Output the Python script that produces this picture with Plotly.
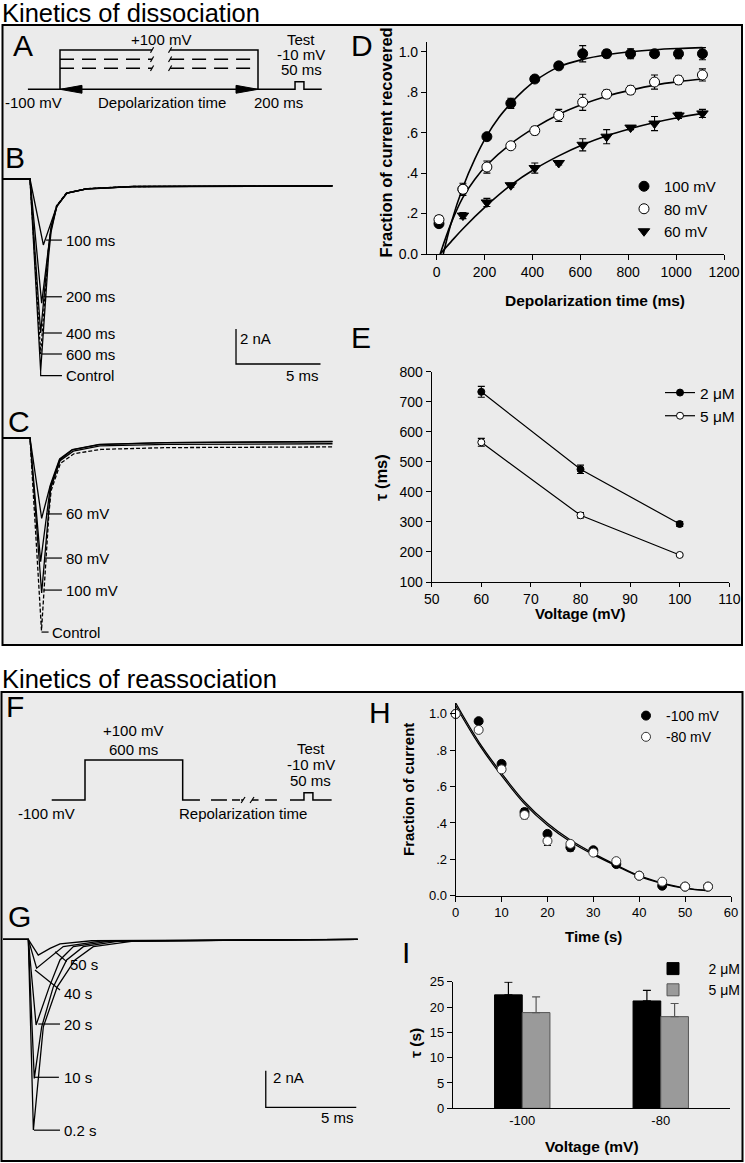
import plotly.graph_objects as go

FONT = "Arial, 'Liberation Sans', Helvetica, sans-serif"
W, H = 745, 1163
BOX_BG = "#ebebeb"

# ---------------- Panel D : fraction of current recovered vs depolarization time
dep_time_ms = [10, 110, 210, 310, 410, 510, 610, 710, 810, 910, 1010, 1110]
rec_100mV = [0.15, 0.32, 0.58, 0.745, 0.865, 0.93, 0.99, 0.99, 0.99, 0.99, 0.99, 0.99]
rec_100mV_err = [0.015, 0.02, 0.01, 0.025, 0.012, 0.012, 0.04, 0.02, 0.025, 0.012, 0.025, 0.03]
rec_80mV = [0.17, 0.32, 0.43, 0.535, 0.61, 0.685, 0.75, 0.79, 0.81, 0.85, 0.86, 0.885]
rec_80mV_err = [0.02, 0.03, 0.03, 0.012, 0.02, 0.03, 0.04, 0.02, 0.02, 0.035, 0.02, 0.03]
rec_60mV = [None, 0.19, 0.255, 0.34, 0.425, 0.45, 0.54, 0.58, 0.625, 0.645, 0.685, 0.695]
rec_60mV_err = [0, 0.015, 0.02, 0.01, 0.025, 0.01, 0.03, 0.035, 0.01, 0.035, 0.015, 0.02]

fit100_t = [28, 60, 110, 160, 210, 260, 310, 360, 410, 510, 610, 710, 810, 910, 1010, 1110]
fit100_y = [0, 0.15, 0.33, 0.47, 0.585, 0.675, 0.745, 0.805, 0.855, 0.925, 0.962, 0.985, 1.0, 1.01, 1.016, 1.02]
fit80_t = [15, 60, 110, 160, 210, 310, 410, 510, 610, 710, 810, 910, 1010, 1110]
fit80_y = [0, 0.15, 0.28, 0.37, 0.44, 0.545, 0.625, 0.69, 0.74, 0.78, 0.81, 0.835, 0.852, 0.865]
fit60_t = [15, 60, 110, 210, 310, 410, 510, 610, 710, 810, 910, 1010, 1110]
fit60_y = [0, 0.06, 0.125, 0.24, 0.34, 0.42, 0.485, 0.54, 0.585, 0.62, 0.65, 0.675, 0.695]

# ---------------- Panel E : tau vs voltage
volt_mV = [60, 80, 100]
tau_2uM = [733, 475, 293]
tau_2uM_err = [18, 14, 8]
tau_5uM = [565, 322, 190]
tau_5uM_err = [13, 9, 4]

# ---------------- Panel H : fraction of current vs repolarization time
rep_time_s = [0, 5, 10, 15, 20, 25, 30, 35, 40, 45, 50, 55]
frac_m100 = [1.0, 0.96, 0.725, 0.46, 0.34, 0.266, 0.25, 0.174, 0.11, 0.055, 0.05, 0.05]
frac_m100_err = [0, 0.01, 0.015, 0.02, 0.015, 0.02, 0.01, 0.01, 0.01, 0.01, 0.01, 0.01]
frac_m80 = [1.0, 0.912, 0.695, 0.444, 0.301, 0.285, 0.237, 0.19, 0.11, 0.077, 0.05, 0.05]
frac_m80_err = [0, 0.01, 0.015, 0.02, 0.025, 0.015, 0.01, 0.01, 0.01, 0.01, 0.01, 0.01]
fitH_t = [0, 5, 10, 15, 20, 25, 30, 35, 40, 45, 50, 55]
fitH_m100 = [1.06, 0.848, 0.673, 0.517, 0.398, 0.306, 0.233, 0.169, 0.11, 0.07, 0.042, 0.03]
fitH_m80 = [1.045, 0.835, 0.66, 0.505, 0.387, 0.297, 0.226, 0.164, 0.106, 0.067, 0.04, 0.027]

# ---------------- Panel I : tau (s) bars
i_volt = ["-100", "-80"]
i_tau_2uM = [22.4, 21.2]
i_tau_2uM_err = [2.5, 2.1]
i_tau_5uM = [18.9, 18.1]
i_tau_5uM_err = [3.1, 2.6]

# ---------------- Panel A : dissociation protocol (schematic time in % of depolarization, mV)
a_solid_t = [-16.2, 0, 0, 46.5, None, 55.6, 100, 100, 118.7, 118.7, 123.2, 123.2, 132.2]
a_solid_v = [-100, -100, 100, 100, None, 100, 100, -100, -100, -61, -61, -100, -100]
a_dash_levels = [53, 7]
a_dash_t = [0, 46.5, None, 55.6, 100]
a_break_t = [46.5, 55.6]
a_arrow_tips = [0, 100]

# ---------------- Panel F : reassociation protocol (ms, mV)
f_solid_t = [-204.5, 0, 0, 600, 600, 706]
f_solid_v = [-100, -100, 100, 100, -100, -100]
f_dash_t = [774, 872, None, 903, 952, None, 1106, 1179]
f_break_t = [971, 1026]
f_test_t = [1259, 1345, 1345, 1400, 1400, 1515]
f_test_v = [-100, -100, -63.5, -63.5, -100, -100]

# ---------------- Panel B : current traces after depolarization of various durations (ms, nA)
b_labels = ["100 ms", "200 ms", "400 ms", "600 ms", "Control"]
b_t = [
    [-1.6, 0, 0.79, 1.25, 1.6, 2.2, 3.4, 6.1, 17.9],
    [-1.6, 0, 0.69, 1.1, 1.25, 1.6, 2.17, 3.36, 6.1, 17.9],
    [-1.6, 0, 0.63, 1.08, 1.24, 1.58, 2.17, 3.36, 6.1, 17.9],
    [-1.6, 0, 0.63, 1.08, 1.23, 1.56, 2.15, 3.3, 6.0, 17.9],
    [-1.6, 0, 0.63, 1.1, 1.25, 1.58, 2.17, 3.36, 6.1, 17.9],
]
b_i = [
    [0, 0, -3.77, -2.5, -1.5, -0.8, -0.55, -0.43, -0.38],
    [0, 0, -7.09, -3.6, -2.7, -1.55, -0.8, -0.56, -0.43, -0.39],
    [0, 0, -8.8, -4.1, -2.9, -1.56, -0.81, -0.56, -0.44, -0.4],
    [0, 0, -10.0, -4.2, -2.9, -1.55, -0.8, -0.55, -0.43, -0.4],
    [0, 0, -10.97, -4.4, -3.0, -1.58, -0.82, -0.57, -0.44, -0.4],
]
b_dash = ["solid", "solid", "solid", "3px,2px", "solid"]
b_label_i = [-3.49, -6.73, -8.8, -10.0, -11.23]
b_label_t0 = [0.95, 0.79, 0.74, 0.68, 0.63]

# ---------------- Panel C : current traces after depolarization to various voltages (ms, nA)
c_labels = ["60 mV", "80 mV", "100 mV", "Control"]
c_t = [
    [-1.6, 0, 0.69, 1.2, 1.75, 2.5, 4.1, 8.0, 17.9],
    [-1.6, 0, 0.63, 1.08, 1.2, 1.76, 2.5, 4.1, 8.0, 17.9],
    [-1.6, 0, 0.69, 1.1, 1.22, 1.78, 2.56, 4.14, 8.09, 17.9],
    [-1.6, 0, 0.68, 1.12, 1.25, 1.8, 2.6, 4.2, 8.1, 17.9],
]
c_i = [
    [0, 0, -4.59, -2.7, -1.2, -0.66, -0.37, -0.26, -0.2],
    [0, 0, -7.07, -3.6, -2.8, -1.25, -0.68, -0.38, -0.27, -0.21],
    [0, 0, -8.86, -4.0, -2.9, -1.3, -0.75, -0.45, -0.37, -0.33],
    [0, 0, -11.0, -4.3, -3.0, -1.45, -0.9, -0.65, -0.55, -0.51],
]
c_dash = ["solid", "solid", "solid", "4px,2px"]
c_label_i = [-4.34, -6.86, -8.69, -11.09]
c_label_t0 = [0.95, 0.85, 0.8, 0.68]

# ---------------- Panel G : current traces after various repolarization times (ms, nA)
g_labels = ["0.2 s", "10 s", "20 s", "40 s", "50 s"]
g_t = [
    [-1.4, 0, 0.28, 0.83, 1.6, 2.58, 3.59, 5.8, 18.2],
    [-1.4, 0, 0.33, 0.74, 1.38, 2.12, 3.04, 5.0, 18.2],
    [-1.4, 0, 0.43, 1.16, 1.75, 2.49, 4.5, 18.2],
    [-1.4, 0, 0.46, 1.02, 1.93, 4.0, 18.2],
    [-1.4, 0, 0.55, 1.2, 1.75, 3.5, 18.2],
]
g_i = [
    [0, 0, -10.42, -4.78, -2.6, -1.13, -0.4, -0.1, 0],
    [0, 0, -7.6, -4.78, -2.6, -1.13, -0.4, -0.1, 0],
    [0, 0, -4.68, -2.6, -1.13, -0.4, -0.1, 0],
    [0, 0, -1.58, -1.13, -0.4, -0.1, 0],
    [0, 0, -0.86, -0.5, -0.25, -0.08, 0],
]
g_label_line_t = [[0.31, 1.75], [0.37, 1.69], [0.55, 1.75], [0.37, 1.75], [1.48, 2.12]]
g_label_line_i = [[-10.43, -10.43], [-7.54, -7.54], [-4.63, -4.63], [-1.68, -2.77], [-0.68, -1.22]]
g_label_pos_t = [1.85, 1.85, 1.85, 1.85, 2.21]
g_label_pos_i = [-10.43, -7.54, -4.63, -2.95, -1.4]

# scale bars (2 nA, 5 ms)
scale_nA = 2
scale_ms = 5


# ---------------- helpers (layout geometry in pixels of the 745x1163 page)
def fx(px):
    return px / W


def fy(py):
    return 1 - py / H


def xdom(a, b):
    return [a / W, b / W]


def ydom(top, bottom):
    return [1 - bottom / H, 1 - top / H]


fig = go.Figure()
BLACK = "black"


def ax_name(n, kind):
    return kind if n == 1 else f"{kind}{n}"


axes = {}


def set_axes(n, xd, yd, xr, yr, visible=False, xkw=None, ykw=None):
    base = dict(showgrid=False, zeroline=False, fixedrange=True)
    xa = dict(base, domain=xd, range=xr, anchor=("y" if n == 1 else f"y{n}"), visible=visible)
    ya = dict(base, domain=yd, range=yr, anchor=("x" if n == 1 else f"x{n}"), visible=visible)
    if xkw:
        xa.update(xkw)
    if ykw:
        ya.update(ykw)
    axes[ax_name(n, "xaxis")] = xa
    axes[ax_name(n, "yaxis")] = ya


def vis_axis(size=14, **kw):
    d = dict(showline=True, linecolor=BLACK, linewidth=1.2, ticks="outside", ticklen=5,
             tickwidth=1.2, tickcolor=BLACK, automargin=False,
             tickfont=dict(family=FONT, size=size, color=BLACK))
    d.update(kw)
    return d


# D axes
set_axes(1, xdom(427, 724), ydom(41.6, 254), [-40, 1200], [0, 1.05], True,
         vis_axis(14, tickvals=[0, 200, 400, 600, 800, 1000, 1200]),
         vis_axis(14, tickvals=[0, 0.2, 0.4, 0.6, 0.8, 1.0],
                  ticktext=["0.0", ".2", ".4", ".6", ".8", "1.0"]))
# E axes
set_axes(2, xdom(431.7, 729.3), ydom(371.7, 582), [50, 110], [100, 800], True,
         vis_axis(14, tickvals=[50, 60, 70, 80, 90, 100, 110], ticklen=4),
         vis_axis(14, tickvals=[100, 200, 300, 400, 500, 600, 700, 800]))
# H axes
set_axes(3, xdom(455.7, 731), ydom(703, 895.7), [0, 60], [0, 1.06], True,
         vis_axis(13, tickvals=[0, 10, 20, 30, 40, 50, 60]),
         vis_axis(13, tickvals=[0, 0.2, 0.4, 0.6, 0.8, 1.0],
                  ticktext=["0.0", ".2", ".4", ".6", ".8", "1.0"]))
# I axes
set_axes(4, xdom(453, 730), ydom(981.7, 1108.3), [-0.5, 1.5], [0, 25], True,
         vis_axis(13, type="category", ticks=""),
         vis_axis(13, tickvals=[0, 5, 10, 15, 20, 25]))

# A axes (schematic protocol)
A_px0, A_pxu, A_py0, A_pymv = 60, 1.98, 89.3, 0.1965
set_axes(5, xdom(3, 370), ydom(30, 115),
         [(3 - A_px0) / A_pxu, (370 - A_px0) / A_pxu],
         [-100 - (115 - A_py0) / A_pymv, -100 + (A_py0 - 30) / A_pymv])
# F axes
F_px0, F_pxms, F_py0, F_pymv = 85, 0.1628, 800, 0.2
set_axes(8, xdom(3, 370), ydom(720, 830),
         [(3 - F_px0) / F_pxms, (370 - F_px0) / F_pxms],
         [-100 - (830 - F_py0) / F_pymv, -100 + (F_py0 - 720) / F_pymv])
# B axes
B_px0, B_pxms, B_py0, B_pxna = 30, 16.9, 179, 17.5
set_axes(6, xdom(3, 360), ydom(170, 385),
         [(3 - B_px0) / B_pxms, (360 - B_px0) / B_pxms],
         [-(385 - B_py0) / B_pxna, -(170 - B_py0) / B_pxna])
# C axes
C_py0 = 438
set_axes(7, xdom(3, 360), ydom(428, 645),
         [(3 - B_px0) / B_pxms, (360 - B_px0) / B_pxms],
         [-(645 - C_py0) / B_pxna, -(428 - C_py0) / B_pxna])
# G axes
G_px0, G_pxms, G_py0, G_pxna = 28.3, 18.1, 939.3, 18.3
set_axes(9, xdom(3, 365), ydom(925, 1150),
         [(3 - G_px0) / G_pxms, (365 - G_px0) / G_pxms],
         [-(1150 - G_py0) / G_pxna, -(925 - G_py0) / G_pxna])


def xy(n):
    return dict(xaxis=("x" if n == 1 else f"x{n}"), yaxis=("y" if n == 1 else f"y{n}"))


def line_trace(n, x, y, width=1.3, dash="solid", color=BLACK, shape="linear"):
    fig.add_trace(go.Scatter(x=x, y=y, mode="lines", showlegend=False, hoverinfo="skip",
                             line=dict(color=color, width=width, dash=dash, shape=shape),
                             cliponaxis=False, **xy(n)))


# ---------- Panel D traces
for t, yv in [(fit100_t, fit100_y), (fit80_t, fit80_y), (fit60_t, fit60_y)]:
    line_trace(1, t, yv, width=1.6, shape="spline")


def err(arr, color=BLACK):
    return dict(type="data", array=arr, visible=True, color=color, thickness=1.1, width=3.5)


fig.add_trace(go.Scatter(x=dep_time_ms, y=rec_100mV, error_y=err(rec_100mV_err), mode="markers",
                         name="100 mV", legend="legend", cliponaxis=False,
                         marker=dict(symbol="circle", size=10, color=BLACK, line=dict(color=BLACK, width=1)),
                         **xy(1)))
fig.add_trace(go.Scatter(x=dep_time_ms, y=rec_80mV, error_y=err(rec_80mV_err), mode="markers",
                         name="80 mV", legend="legend", cliponaxis=False,
                         marker=dict(symbol="circle", size=10, color="white", line=dict(color=BLACK, width=1)),
                         **xy(1)))
fig.add_trace(go.Scatter(x=dep_time_ms, y=rec_60mV, error_y=err(rec_60mV_err), mode="markers",
                         name="60 mV", legend="legend", cliponaxis=False,
                         marker=dict(symbol="triangle-down", size=10, color=BLACK, line=dict(color=BLACK, width=1)),
                         **xy(1)))

# ---------- Panel E traces
fig.add_trace(go.Scatter(x=volt_mV, y=tau_2uM, error_y=err(tau_2uM_err), mode="lines+markers",
                         name="2 μM", legend="legend2", cliponaxis=False,
                         line=dict(color=BLACK, width=1.2),
                         marker=dict(symbol="circle", size=7, color=BLACK, line=dict(color=BLACK, width=1)),
                         **xy(2)))
fig.add_trace(go.Scatter(x=volt_mV, y=tau_5uM, error_y=err(tau_5uM_err), mode="lines+markers",
                         name="5 μM", legend="legend2", cliponaxis=False,
                         line=dict(color=BLACK, width=1.2),
                         marker=dict(symbol="circle", size=7, color="white", line=dict(color=BLACK, width=1)),
                         **xy(2)))

# ---------- Panel H traces
line_trace(3, fitH_t, fitH_m100, width=1.3, shape="spline")
line_trace(3, fitH_t, fitH_m80, width=1.3, shape="spline")
fig.add_trace(go.Scatter(x=rep_time_s, y=frac_m100, error_y=err(frac_m100_err), mode="markers",
                         name="-100 mV", legend="legend3", cliponaxis=False,
                         marker=dict(symbol="circle", size=9, color=BLACK, line=dict(color=BLACK, width=1)),
                         **xy(3)))
fig.add_trace(go.Scatter(x=rep_time_s, y=frac_m80, error_y=err(frac_m80_err), mode="markers",
                         name="-80 mV", legend="legend3", cliponaxis=False,
                         marker=dict(symbol="circle", size=9, color="white", line=dict(color="#333333", width=1)),
                         **xy(3)))

# ---------- Panel I bars
NBSP = "\u00a0"
fig.add_trace(go.Bar(x=i_volt, y=i_tau_2uM, name=NBSP * 4 + "2 μM", legend="legend4",
                     marker=dict(color=BLACK, line=dict(color=BLACK, width=1)),
                     error_y=dict(type="data", array=i_tau_2uM_err, arrayminus=[0, 0], symmetric=False,
                                  color=BLACK, thickness=1.2, width=4),
                     **xy(4)))
fig.add_trace(go.Bar(x=i_volt, y=i_tau_5uM, name=NBSP * 4 + "5 μM", legend="legend4",
                     marker=dict(color="#9a9a9a", line=dict(color="#555555", width=1)),
                     error_y=dict(type="data", array=i_tau_5uM_err, arrayminus=[0, 0], symmetric=False,
                                  color="#555555", thickness=1.2, width=4),
                     **xy(4)))

# ---------- Panel A protocol
line_trace(5, a_solid_t, a_solid_v, width=1.5)
for lvl in a_dash_levels:
    line_trace(5, a_dash_t, [lvl if t is not None else None for t in a_dash_t], width=1.5, dash="14px,8px")
for lvl in [100] + a_dash_levels:
    for tb in a_break_t:
        line_trace(5, [tb - 0.8, tb + 0.8], [lvl - 14, lvl + 14], width=1.2)
# double arrow (shaft + filled heads)
line_trace(5, a_arrow_tips, [-100, -100], width=1.5)
for tip, sgn in zip(a_arrow_tips, [1, -1]):
    fig.add_trace(go.Scatter(x=[tip, tip + sgn * 11.1, tip + sgn * 11.1, tip], y=[-100, -80, -120, -100],
                             mode="lines", fill="toself", fillcolor=BLACK, line=dict(color=BLACK, width=1),
                             showlegend=False, hoverinfo="skip", cliponaxis=False, **xy(5)))

# ---------- Panel F protocol
line_trace(8, f_solid_t, f_solid_v, width=1.5)
line_trace(8, f_dash_t, [-100 if t is not None else None for t in f_dash_t], width=1.5)
for tb in f_break_t:
    line_trace(8, [tb - 12, tb + 12], [-115, -85], width=1.2)
line_trace(8, [f_break_t[0] - 12, f_break_t[0]], [-100, -100], width=1.5)
line_trace(8, [f_break_t[1], f_break_t[1] + 40], [-100, -100], width=1.5)
line_trace(8, f_test_t, f_test_v, width=1.5)

# ---------- Panel B traces
for t, iv, d in zip(b_t, b_i, b_dash):
    line_trace(6, t, iv, width=1.3, dash=d)
for lab_i, t0 in zip(b_label_i[:-1], b_label_t0[:-1]):
    line_trace(6, [t0, 1.89], [lab_i, lab_i], width=1.2)
line_trace(6, [b_label_t0[-1], b_label_t0[-1], 1.89], [b_i[-1][2], b_label_i[-1], b_label_i[-1]], width=1.2)
# B scale bar
B_sb_t, B_sb_i = 12.19, -8.57
line_trace(6, [B_sb_t, B_sb_t, B_sb_t + scale_ms], [B_sb_i, B_sb_i - scale_nA, B_sb_i - scale_nA], width=1.3)

# ---------- Panel C traces
for t, iv, d in zip(c_t, c_i, c_dash):
    line_trace(7, t, iv, width=1.3, dash=d)
for k, (lab_i, t0) in enumerate(zip(c_label_i, c_label_t0)):
    t1 = 1.1 if k == len(c_label_i) - 1 else 1.89
    line_trace(7, [t0, t1], [lab_i, lab_i], width=1.2)

# ---------- Panel G traces
for t, iv in zip(g_t, g_i):
    line_trace(9, t, iv, width=1.3)
for lt, li in zip(g_label_line_t, g_label_line_i):
    line_trace(9, lt, li, width=1.2)
G_sb_t, G_sb_i = 13.12, -7.18
line_trace(9, [G_sb_t, G_sb_t, G_sb_t + scale_ms], [G_sb_i, G_sb_i - scale_nA, G_sb_i - scale_nA], width=1.3)

# ---------------- annotations
ann = []


def text(px, py, s, size=15, xanchor="center", yanchor="middle", angle=0, bold=False):
    ann.append(dict(x=fx(px), y=fy(py), xref="paper", yref="paper", text=(f"<b>{s}</b>" if bold else s),
                    showarrow=False, xanchor=xanchor, yanchor=yanchor, textangle=angle,
                    font=dict(family=FONT, size=size, color=BLACK)))


def dtext(n, x, y, s, size=15, xanchor="left"):
    ann.append(dict(x=x, y=y, xref=("x" if n == 1 else f"x{n}"), yref=("y" if n == 1 else f"y{n}"),
                    text=s, showarrow=False, xanchor=xanchor, yanchor="middle",
                    font=dict(family=FONT, size=size, color=BLACK)))


# section titles
text(0, 13, "Kinetics of dissociation", size=25.5, xanchor="left")
text(0, 679, "Kinetics of reassociation", size=25.5, xanchor="left")
# panel letters
for L, px, py in [("A", 22.5, 46), ("B", 15, 157), ("C", 19, 421), ("D", 362, 46), ("E", 361, 337.5),
                  ("F", 15, 707), ("G", 19, 916), ("H", 380, 712.5), ("I", 405.5, 952.5)]:
    text(px, py, L, size=30)
# protocol A labels
for s, px, py in [("+100 mV", 161, 39), ("Test", 301, 39), ("-10 mV", 301, 54), ("50 ms", 301, 69),
                  ("-100 mV", 33, 102.7), ("Depolarization time", 161.7, 102.7), ("200 ms", 278, 102.7)]:
    text(px, py, s, size=15)
# protocol F labels
for s, px, py in [("+100 mV", 133.3, 730), ("600 ms", 133.3, 749.3), ("Test", 310.7, 748.3),
                  ("-10 mV", 310.7, 764), ("50 ms", 310.7, 780), ("-100 mV", 46.7, 813.3),
                  ("Repolarization time", 243.3, 813.3)]:
    text(px, py, s, size=15)
# axis titles
text(386, 142.5, "Fraction of current recovered", size=16.5, angle=-90, bold=True)
text(595, 300, "Depolarization time (ms)", size=15.5, bold=True)
text(381, 478, "τ (ms)", size=16.5, angle=-90, bold=True)
text(580, 613, "Voltage (mV)", size=15, bold=True)
text(408, 790, "Fraction of current", size=15, angle=-90, bold=True)
text(593, 936.7, "Time (s)", size=15, bold=True)
text(415, 1043, "τ (s)", size=15.5, angle=-90, bold=True)
text(591.7, 1146.7, "Voltage (mV)", size=15.5, bold=True)
# trace labels (data coordinates)
for s, iv in zip(b_labels, b_label_i):
    dtext(6, 2.01, iv, s)
dtext(6, B_sb_t + 0.12, B_sb_i - 0.52, "2 nA")
dtext(6, B_sb_t + scale_ms, B_sb_i - scale_nA - 0.67, "5 ms", xanchor="right")
for k, (s, iv) in enumerate(zip(c_labels, c_label_i)):
    dtext(7, 1.2 if k == len(c_labels) - 1 else 2.01, iv, s)
for s, tt, iv in zip(g_labels, g_label_pos_t, g_label_pos_i):
    dtext(9, tt, iv, s)
dtext(9, G_sb_t + 0.27, G_sb_i - 0.36, "2 nA")
dtext(9, G_sb_t + scale_ms, G_sb_i - scale_nA - 0.57, "5 ms", xanchor="right")

shapes = [
    dict(type="rect", xref="paper", yref="paper", x0=fx(2.5), x1=fx(742), y0=fy(645), y1=fy(25),
         fillcolor=BOX_BG, line=dict(color=BLACK, width=2), layer="below"),
    dict(type="rect", xref="paper", yref="paper", x0=fx(1.5), x1=fx(742.5), y0=fy(1161), y1=fy(692),
         fillcolor=BOX_BG, line=dict(color=BLACK, width=2), layer="below"),
]

leg_common = dict(bgcolor="rgba(0,0,0,0)", borderwidth=0, xanchor="left", yanchor="top",
                  tracegroupgap=0, itemclick=False, itemdoubleclick=False)
fig.update_layout(
    width=W, height=H, autosize=False,
    margin=dict(l=0, r=0, t=0, b=0, pad=0, autoexpand=False),
    paper_bgcolor="white", plot_bgcolor="rgba(0,0,0,0)",
    font=dict(family=FONT, color=BLACK),
    showlegend=True,
    barmode="group", bargap=0.6, bargroupgap=0,
    legend=dict(leg_common, x=fx(624), y=fy(170), font=dict(family=FONT, size=15, color=BLACK)),
    legend2=dict(leg_common, x=fx(660), y=fy(376), font=dict(family=FONT, size=15.5, color=BLACK)),
    legend3=dict(leg_common, x=fx(626), y=fy(700), font=dict(family=FONT, size=14, color=BLACK)),
    legend4=dict(leg_common, x=fx(653), y=fy(953), font=dict(family=FONT, size=14, color=BLACK)),
    annotations=ann, shapes=shapes,
    **axes,
)

fig.write_html("out.html", config={"displayModeBar": False},
               post_script="document.body.style.margin='0px';document.body.style.overflow='hidden';")
